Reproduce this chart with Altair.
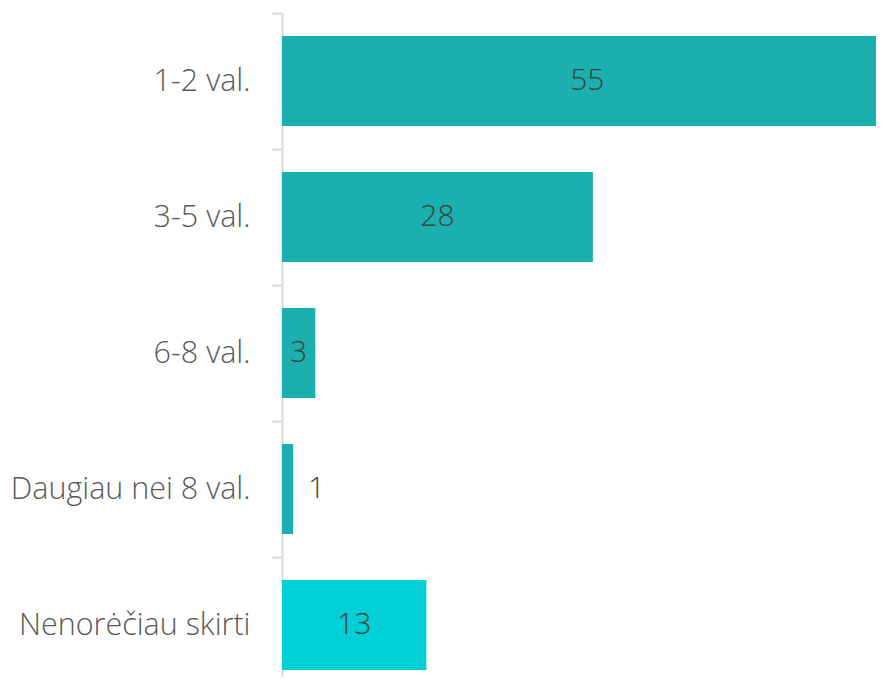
import altair as alt
import pandas as pd

categories = ["1-2 val.", "3-5 val.", "6-8 val.", "Daugiau nei 8 val.", "Nenorėčiau skirti"]
values = [55, 28, 3, 1, 13]
bar_colors = ["#1BB0AE", "#1BB0AE", "#1BB0AE", "#1BB0AE", "#00CFD5"]
label_inside = [True, True, True, False, True]

df = pd.DataFrame({"cat": categories, "val": values, "color": bar_colors, "inside": label_inside})
df["half"] = df["val"] / 2

FONT = "Open Sans"

yscale = alt.Scale(paddingInner=0, paddingOuter=0, range=[0, 680])
y_axis = alt.Axis(
    title=None, tickBand="extent", ticks=True, tickSize=10, tickWidth=2,
    tickColor="#dadada", domainColor="#dadada", domainWidth=2,
    labelFont=FONT, labelFontSize=30.5, labelFontWeight=300, labelColor="#595959",
    labelPadding=22, labelLimit=400,
)
y = alt.Y("cat:N", sort=categories, scale=yscale, axis=y_axis)
xscale = alt.Scale(domain=[0, 53.5], nice=False, zero=True)

base = alt.Chart(df)
bars = base.mark_bar(clip=False, height=90).encode(
    x=alt.X("val:Q", scale=xscale, axis=None),
    y=y,
    color=alt.Color("color:N", scale=None),
)
inside = base.transform_filter("datum.inside").mark_text(
    font=FONT, fontSize=30, fontWeight=300, color="#404040", align="center", baseline="middle"
).encode(
    x=alt.X("half:Q", scale=xscale),
    y=alt.Y("cat:N", sort=categories, scale=yscale),
    text="val:Q",
)
outside = base.transform_filter("!datum.inside").mark_text(
    font=FONT, fontSize=30, fontWeight=300, color="#404040", align="left", baseline="middle", dx=15
).encode(
    x=alt.X("val:Q", scale=xscale),
    y=alt.Y("cat:N", sort=categories, scale=yscale),
    text="val:Q",
)

chart = alt.layer(bars, inside, outside).properties(
    width=594, height=664,
    autosize=alt.AutoSizeParams(type="none"),
    padding={"left": 274, "top": 5, "right": 0, "bottom": 0},
).configure_view(stroke=None)

chart.save("out.html", embed_options={"renderer": "svg", "actions": False})
